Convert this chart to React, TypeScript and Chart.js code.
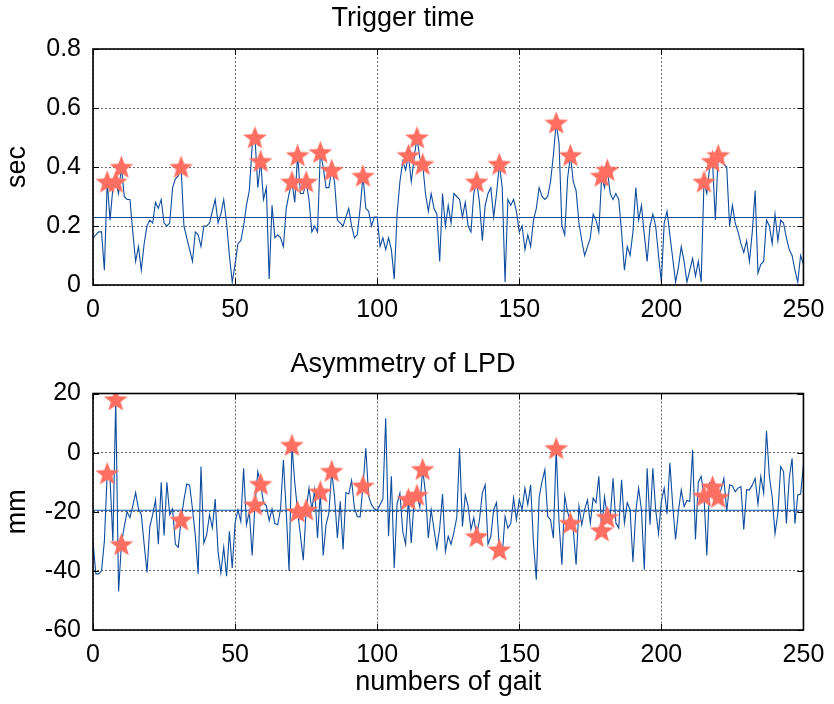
import React, { useEffect, useRef } from "react";
import { Chart, registerables } from "chart.js";

Chart.register(...registerables);

// ---- data ----
const triggerTime = [
  0.16, 0.17, 0.18, 0.18, 0.05, 0.35, 0.22, 0.33, 0.35, 0.31,
  0.40, 0.30, 0.29, 0.29, 0.18, 0.08, 0.13, 0.05, 0.14, 0.20,
  0.22, 0.21, 0.28, 0.26, 0.29, 0.21, 0.20, 0.21, 0.33, 0.36,
  0.37, 0.40, 0.20, 0.16, 0.12, 0.08, 0.18, 0.17, 0.13, 0.20,
  0.20, 0.21, 0.25, 0.29, 0.21, 0.24, 0.29, 0.21, 0.10, 0.01,
  0.07, 0.14, 0.15, 0.20, 0.27, 0.32, 0.47, 0.50, 0.33, 0.42,
  0.29, 0.33, 0.02, 0.27, 0.16, 0.17, 0.16, 0.13, 0.26, 0.31,
  0.35, 0.28, 0.44, 0.31, 0.31, 0.35, 0.29, 0.18, 0.20, 0.18,
  0.45, 0.40, 0.33, 0.33, 0.39, 0.35, 0.22, 0.21, 0.20, 0.23,
  0.26, 0.20, 0.16, 0.17, 0.26, 0.37, 0.26, 0.25, 0.20, 0.23,
  0.23, 0.13, 0.16, 0.12, 0.16, 0.12, 0.02, 0.24, 0.35, 0.42,
  0.39, 0.44, 0.35, 0.43, 0.50, 0.43, 0.41, 0.31, 0.25, 0.31,
  0.26, 0.24, 0.08, 0.31, 0.20, 0.27, 0.21, 0.31, 0.30, 0.29,
  0.23, 0.28, 0.20, 0.18, 0.31, 0.35, 0.28, 0.15, 0.27, 0.31,
  0.33, 0.23, 0.31, 0.41, 0.33, 0.01, 0.29, 0.27, 0.29, 0.25,
  0.18, 0.20, 0.12, 0.17, 0.13, 0.22, 0.26, 0.33, 0.30, 0.29,
  0.30, 0.35, 0.44, 0.55, 0.48, 0.20, 0.17, 0.36, 0.44, 0.35,
  0.32, 0.21, 0.15, 0.10, 0.13, 0.16, 0.24, 0.22, 0.18, 0.37,
  0.33, 0.39, 0.31, 0.29, 0.31, 0.29, 0.18, 0.05, 0.13, 0.10,
  0.18, 0.33, 0.22, 0.27, 0.17, 0.08, 0.20, 0.24, 0.20, 0.10,
  0.01, 0.21, 0.25, 0.17, 0.09, 0.01, 0.06, 0.13, 0.08, 0.01,
  0.05, 0.09, 0.03, 0.08, 0.01, 0.35, 0.31, 0.40, 0.42, 0.22,
  0.44, 0.42, 0.41, 0.40, 0.20, 0.27, 0.21, 0.18, 0.14, 0.11,
  0.15, 0.08, 0.18, 0.32, 0.04, 0.07, 0.08, 0.22, 0.20, 0.14,
  0.24, 0.15, 0.22, 0.21, 0.16, 0.12, 0.10, 0.05, 0.01, 0.10,
  0.07,
];

const asymmetryLPD = [
  -30, -41, -41, -40, -30, -7, -9, -30, 18, -47,
  -31, -25, -20, -22, -18, -13.5, -19, -21, -31, -40.5,
  -25, -21, -16, -31, -10, -28, -10, -21, -19, -31,
  -32, -22.7, -16, -10.6, -11, -19, -28, -41, -4.7, -30.6,
  -27.8, -21, -25.5, -15.7, -33.4, -40.7, -32, -41.8, -26.6, -39,
  -23.8, -19.3, -23.3, -5.3, -24.4, -20, -34.8, -17.6, -6.4, -10.6,
  -17, -18, -23, -19, -24, -24.4, -19, -2.5, -20, -40,
  2.6, -10, -19.9, -28, -36.4, -19.3, -12, -19.3, -12.6, -28.9,
  -13.2, -34.8, -24.4, -20.5, -6.2, -15, -28.9, -16.5, -32.8, -13.5,
  -14, -9.4, -18.8, -21.6, -21.8, -11.2, 1.5, -14.8, -17.6, -19,
  -19.5, -17.6, -15.7, 11.6, -28.3, -8, -39, -17.3, -13.7, -26.6,
  -31, -15.7, -30.6, -16, -14.3, -18.4, -5.6, -13.7, -28.9, -19.3,
  -26, -32.3, -25.5, -14, -33.4, -28.3, -31, -27, -22, 1.5,
  -25, -14.3, -18.2, -26, -22, -28.3, -22.7, -13.7, -10.9, -31,
  -28.3, -19.3, -16.9, -32.8, -35, -21.6, -25.5, -24, -15.4, -22.7,
  -16, -19.3, -12, -17.6, -10.9, -30.6, -43, -15, -9.8, -5.8,
  -21.6, -22.7, -28.9, 1.5, -23.8, -37.9, -14.6, -20, -23.8, -26,
  -37.9, -18.2, -24.4, -19.3, -16, -23.8, -15.4, -16.9, -8, -26.3,
  -15, -21.8, -22, -8.7, -23.8, -25.5, -9.2, -23.8, -16.9, -19.3,
  -37, -20, -12, -19.3, -39.6, -5.3, -24.4, -5.3, -19.3, -27.4,
  -16.5, -12, -20.7, -3.4, -18, -29.4, -19.9, -12.6, -18.2, -16.2,
  -16.5, 0.9, -29.4, -10, -8, -14.6, -34.8, -10.3, -11.5, -16,
  -15, -12.6, -8.7, -19.9, -10.9, -11.3, -13.2, -12, -11.5, -26,
  -12.6, -12.6, -11, -8.7, -17.4, -8, -13.7, 7.4, -8, -15,
  -27.4, -20.5, -4.7, -6.4, -24, -8.7, -1.9, -24, -14.3, -14,
  -4.2,
];

// gait numbers where a trigger event (star) was marked
const eventGaits = [5, 8, 10, 31, 57, 59, 70, 72, 75, 80, 84, 95, 111, 114, 116, 135, 143, 163, 168, 179, 181, 215, 218, 220];

const triggerMean = 0.229;
const asymmetryMean = -19.5;

const xTicks = [0, 50, 100, 150, 200, 250];
const triggerTicks = [0, 0.2, 0.4, 0.6, 0.8];
const lpdTicks = [-60, -40, -20, 0, 20];

// ---- styling ----
const FONT = "'Liberation Sans', Arial, Helvetica, sans-serif";
const LINE_COLOR = "#0D4C9E";
const STAR_COLOR = "#FF6F61";
const GRID_COLOR = "rgba(0,0,0,0.6)";
const TICK_SIZE = 25;
const TITLE_SIZE = 27;

function makeStar(r: number): HTMLCanvasElement {
  const size = Math.ceil(r * 2 + 2);
  const c = document.createElement("canvas");
  c.width = size;
  c.height = size;
  const ctx = c.getContext("2d")!;
  const cx = size / 2;
  const cy = size / 2 + r * 0.08;
  ctx.beginPath();
  for (let i = 0; i < 10; i++) {
    const rad = i % 2 === 0 ? r : r * 0.42;
    const a = -Math.PI / 2 + (i * Math.PI) / 5;
    const px = cx + rad * Math.cos(a);
    const py = cy + rad * Math.sin(a);
    if (i === 0) ctx.moveTo(px, py);
    else ctx.lineTo(px, py);
  }
  ctx.closePath();
  ctx.fillStyle = STAR_COLOR;
  ctx.fill();
  return c;
}

const boxPlugin = {
  id: "matlabBox",
  afterDraw(chart: any) {
    const { ctx, chartArea } = chart;
    const { left, right, top, bottom } = chartArea;
    const xs = chart.scales.x;
    const ys = chart.scales.y;
    ctx.save();
    ctx.strokeStyle = "#000";
    ctx.lineWidth = 1;
    const tl = 6;
    ctx.beginPath();
    xs.ticks.forEach((t: any) => {
      const px = Math.round(xs.getPixelForValue(t.value)) + 0.5;
      ctx.moveTo(px, bottom);
      ctx.lineTo(px, bottom - tl);
      ctx.moveTo(px, top);
      ctx.lineTo(px, top + tl);
    });
    ys.ticks.forEach((t: any) => {
      const py = Math.round(ys.getPixelForValue(t.value)) + 0.5;
      ctx.moveTo(left, py);
      ctx.lineTo(left + tl, py);
      ctx.moveTo(right, py);
      ctx.lineTo(right - tl, py);
    });
    ctx.stroke();
    ctx.lineWidth = 1.6;
    ctx.strokeRect(left, top, right - left, bottom - top);
    ctx.restore();
  },
};

type Cfg = {
  values: number[];
  mean: number;
  yMin: number;
  yMax: number;
  yTicks: number[];
  yTitle: string;
  title: string;
  xTitle?: string;
  canvasH: number;
  plotBottom: number;
  titlePad: { top: number; bottom: number };
  star: HTMLCanvasElement;
  fmt: (v: number) => string;
};

function buildConfig(c: Cfg): any {
  return {
    type: "line",
    data: {
      datasets: [
        {
          label: "events",
          data: eventGaits.map((g) => ({ x: g, y: c.values[g] })),
          showLine: false,
          pointStyle: c.star,
          pointRadius: 12,
          order: 0,
        },
        {
          label: "series",
          data: c.values.map((v, i) => ({ x: i, y: v })),
          borderColor: LINE_COLOR,
          borderWidth: 1.1,
          pointRadius: 0,
          tension: 0,
          fill: false,
          order: 1,
        },
        {
          label: "mean",
          data: [
            { x: 0, y: c.mean },
            { x: 250, y: c.mean },
          ],
          borderColor: LINE_COLOR,
          borderWidth: 1.1,
          pointRadius: 0,
          fill: false,
          order: 2,
        },
      ],
    },
    options: {
      responsive: false,
      animation: false,
      events: [],
      layout: { padding: { left: 0, right: 28, top: 0, bottom: 0 } },
      plugins: {
        legend: { display: false },
        tooltip: { enabled: false },
        title: {
          display: true,
          text: c.title,
          color: "#000",
          font: { family: FONT, size: TITLE_SIZE, weight: "normal" },
          padding: c.titlePad,
        },
      },
      scales: {
        x: {
          type: "linear",
          min: 0,
          max: 250,
          afterBuildTicks: (s: any) => {
            s.ticks = xTicks.map((v) => ({ value: v }));
          },
          afterFit: (s: any) => {
            s.height = c.canvasH - c.plotBottom;
          },
          ticks: {
            color: "#000",
            font: { family: FONT, size: TICK_SIZE },
            padding: 9.7,
            maxRotation: 0,
            callback: (v: number) => String(v),
          },
          grid: { color: GRID_COLOR, drawTicks: false, lineWidth: 1 },
          border: { display: false, dash: [2, 2] },
          title: c.xTitle
            ? {
                display: true,
                text: c.xTitle,
                color: "#000",
                font: { family: FONT, size: TITLE_SIZE },
                padding: { top: 0, bottom: 4.8 },
              }
            : { display: false },
        },
        y: {
          type: "linear",
          min: c.yMin,
          max: c.yMax,
          afterBuildTicks: (s: any) => {
            s.ticks = c.yTicks.map((v) => ({ value: v }));
          },
          afterFit: (s: any) => {
            s.width = 93;
          },
          ticks: {
            color: "#000",
            font: { family: FONT, size: TICK_SIZE },
            padding: 12,
            callback: (v: number) => c.fmt(v),
          },
          grid: { color: GRID_COLOR, drawTicks: false, lineWidth: 1 },
          border: { display: false, dash: [2, 2] },
          title: {
            display: true,
            text: c.yTitle,
            color: "#000",
            font: { family: FONT, size: TITLE_SIZE },
            padding: { top: 1, bottom: 0 },
          },
        },
      },
    },
    plugins: [boxPlugin],
  };
}

export default function App() {
  const topRef = useRef<HTMLCanvasElement>(null);
  const botRef = useRef<HTMLCanvasElement>(null);

  useEffect(() => {
    const star = makeStar(12.5);
    const c1 = new Chart(
      topRef.current!,
      buildConfig({
        values: triggerTime,
        mean: triggerMean,
        yMin: 0,
        yMax: 0.8,
        yTicks: triggerTicks,
        yTitle: "sec",
        title: "Trigger time",
        canvasH: 340,
        plotBottom: 285,
        titlePad: { top: 2.8, bottom: 13.8 },
        star,
        fmt: (v) => (v === 0 ? "0" : v.toFixed(1)),
      })
    );
    const c2 = new Chart(
      botRef.current!,
      buildConfig({
        values: asymmetryLPD,
        mean: asymmetryMean,
        yMin: -60,
        yMax: 20,
        yTicks: lpdTicks,
        yTitle: "mm",
        title: "Asymmetry of LPD",
        xTitle: "numbers of gait",
        canvasH: 364,
        plotBottom: 290,
        titlePad: { top: 8.3, bottom: 12.8 },
        star,
        fmt: (v) => String(v),
      })
    );
    return () => {
      c1.destroy();
      c2.destroy();
    };
  }, []);

  return (
    <div style={{ position: "absolute", left: 0, top: 0, width: 834, height: 704, background: "#fff" }}>
      <canvas ref={topRef} width={834} height={340} style={{ position: "absolute", left: 0, top: 0 }} />
      <canvas ref={botRef} width={834} height={364} style={{ position: "absolute", left: 0, top: 340 }} />
    </div>
  );
}
